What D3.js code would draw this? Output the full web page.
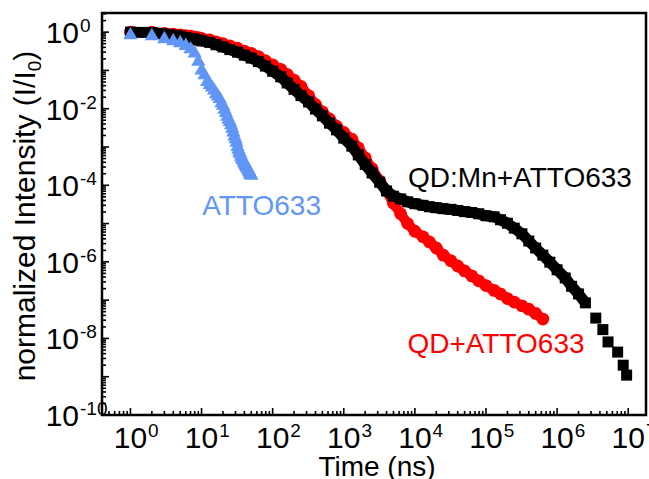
<!DOCTYPE html>
<html>
<head>
<meta charset="utf-8">
<script src="https://cdn.jsdelivr.net/npm/d3@7"></script>
<style>
	body { margin: 0; background: #fff; }
	figure { margin: 0; }
	text { font-family: "Liberation Sans", Arial, sans-serif; }
</style>
</head>
<body>
<figure id="decay"></figure>
<script>
// ---- data (time in ns, intensity normalized) ----
const qdMnTime = [1, 2, 3, 4, 5, 6, 7, 8, 9, 10,
	13, 16, 20, 25, 32, 40, 50, 63, 79, 100,
	130, 160, 200, 250, 320, 400, 500, 630, 790, 1000,
	1300, 1600, 2000, 2500, 3200, 4000, 5000, 6300, 7900, 1e4,
	1.3e4, 1.6e4, 2e4, 2.5e4, 3.2e4, 4e4, 5e4, 6.3e4, 7.9e4, 1e5,
	1.3e5, 1.6e5, 2e5, 2.5e5, 3.2e5, 4e5, 5e5, 6.3e5, 7.9e5, 1e6,
	1.3e6, 1.6e6, 2e6, 2.5e6,
	3.5e6, 4.4e6, 5.2e6, 7.1e6, 8.5e6, 9.5e6];
const qdMnValue = [1.0, 0.98, 0.89, 0.83, 0.79, 0.72, 0.68, 0.66, 0.62, 0.59,
	0.54, 0.47, 0.41, 0.35, 0.30, 0.25, 0.21, 0.17, 0.13, 0.095,
	0.068, 0.047, 0.032, 0.022, 0.015, 9.8e-3, 6.5e-3, 4.2e-3, 2.8e-3, 1.7e-3,
	1.05e-3, 6.2e-4, 3.5e-4, 2.1e-4, 1.2e-4, 7.1e-5, 5.2e-5, 4.4e-5, 3.7e-5, 3.3e-5,
	3.0e-5, 2.75e-5, 2.6e-5, 2.45e-5, 2.35e-5, 2.2e-5, 2.05e-5, 1.95e-5, 1.8e-5, 1.6e-5,
	1.5e-5, 1.26e-5, 1.02e-5, 7.6e-6, 5.4e-6, 3.5e-6, 2.3e-6, 1.5e-6, 9.8e-7, 6.2e-7,
	3.8e-7, 2.3e-7, 1.45e-7, 8.5e-8,
	3.4e-8, 1.7e-8, 8.1e-9, 4.4e-9, 2.0e-9, 1.1e-9];

const qdTime = [1, 2, 3, 4, 5, 6, 7, 8, 9, 10,
	13, 16, 20, 25, 32, 40, 50, 63, 79, 100,
	130, 160, 200, 250, 320, 400, 500, 630, 790, 1000,
	1300, 1600, 2000, 2500, 3200, 4000, 5000, 6300, 7900, 1e4,
	1.3e4, 1.6e4, 2e4, 2.5e4, 3.2e4, 4e4, 5e4, 6.3e4, 7.9e4, 1e5,
	1.3e5, 1.6e5, 2e5, 2.5e5, 3.2e5, 4e5, 5e5, 6.3e5];
const qdValue = [1.0, 1.0, 0.93, 0.89, 0.85, 0.81, 0.78, 0.74, 0.72, 0.69,
	0.63, 0.56, 0.50, 0.44, 0.38, 0.32, 0.28, 0.23, 0.18, 0.14,
	0.107, 0.079, 0.056, 0.038, 0.022, 0.0129, 0.0083, 0.0054, 0.0035, 0.0024,
	1.6e-3, 9.5e-4, 5.2e-4, 2.7e-4, 1.3e-4, 7.1e-5, 3.4e-5, 1.8e-5, 1.0e-5, 6.3e-6,
	4.5e-6, 3.3e-6, 2.3e-6, 1.5e-6, 1.07e-6, 7.8e-7, 5.8e-7, 4.3e-7, 3.2e-7, 2.4e-7,
	1.8e-7, 1.45e-7, 1.1e-7, 8.9e-8, 7.1e-8, 5.8e-8, 4.5e-8, 3.2e-8];

const attoTime = d3.range(1, 51);
const attoValue = [0.83, 0.79, 0.66, 0.58, 0.52, 0.44, 0.36, 0.28, 0.17, 0.10,
	0.075, 0.05, 0.042, 0.036, 0.030, 0.024, 0.021, 0.018, 0.014, 0.012,
	0.0095, 0.0078, 0.0062, 0.0052, 0.0045, 0.0037, 0.0030, 0.0024, 0.0019, 0.0016,
	0.0013, 0.0010, 8.5e-4, 7.2e-4, 6.5e-4, 5.6e-4, 5.0e-4, 4.6e-4, 4.2e-4, 3.8e-4,
	3.5e-4, 3.2e-4, 3.0e-4, 2.8e-4, 2.6e-4, 2.4e-4, 2.2e-4, 2.0e-4, 1.9e-4, 1.8e-4];

const xTickExponents = [0, 1, 2, 3, 4, 5, 6, 7];
const yTickExponents = [0, -2, -4, -6, -8, -10];
const seriesNames = ["QD:Mn+ATTO633", "QD+ATTO633", "ATTO633"];

let dimensions = {
	width: 649,
	height: 479,
	margin: {
		top: 13,
		right: 3,
		bottom: 64,
		left: 102,
	},
};
dimensions.boundedWidth = dimensions.width - dimensions.margin.left - dimensions.margin.right;
dimensions.boundedHeight = dimensions.height - dimensions.margin.top - dimensions.margin.bottom;

var root = d3.select("figure#decay")
	.append("svg")
	.attr("width", dimensions.width)
	.attr("height", dimensions.height);

var svg = root.append("g")
	.attr("transform", `translate(${dimensions.margin.left},${dimensions.margin.top})`);

var xScale = d3.scaleLog()
	.domain([Math.pow(10, -0.4), Math.pow(10, 7.25)])
	.range([0, dimensions.boundedWidth]);

var yScale = d3.scaleLog()
	.domain([1e-10, Math.pow(10, 0.5)])
	.range([dimensions.boundedHeight, 0]);

var zip = (ts, vs) => ts.map((t, i) => ({ t: t, v: vs[i] }));
var qdMn = zip(qdMnTime, qdMnValue);
var qd = zip(qdTime, qdValue);
var atto = zip(attoTime, attoValue);

var line = d3.line()
	.x(d => xScale(d.t))
	.y(d => yScale(d.v));

// QD + ATTO633 (red circles), drawn first, sits under the black
svg.append("path")
	.datum(qd)
	.attr("d", line)
	.attr("fill", "none")
	.attr("stroke", "#ff0000")
	.attr("stroke-width", 10)
	.attr("stroke-linejoin", "round")
	.attr("stroke-linecap", "round");

svg.selectAll("circle.qd")
	.data(qd)
	.enter()
	.append("circle")
	.attr("class", "qd")
	.attr("cx", d => xScale(d.t))
	.attr("cy", d => yScale(d.v))
	.attr("r", 6.4)
	.attr("fill", "#ff0000");

// QD:Mn + ATTO633 (black squares); the dense part is a continuous band
svg.append("path")
	.datum(qdMn.filter(d => d.t <= 2.5e6))
	.attr("d", line)
	.attr("fill", "none")
	.attr("stroke", "#000")
	.attr("stroke-width", 11)
	.attr("stroke-linejoin", "round");

svg.selectAll("rect.qdmn")
	.data(qdMn)
	.enter()
	.append("rect")
	.attr("class", "qdmn")
	.attr("x", d => xScale(d.t) - 5.5)
	.attr("y", d => yScale(d.v) - 5.5)
	.attr("width", 11)
	.attr("height", 11)
	.attr("fill", "#000");

// ATTO633 alone (blue triangles) on top
svg.selectAll("path.atto")
	.data(atto)
	.enter()
	.append("path")
	.attr("class", "atto")
	.attr("d", d3.symbol(d3.symbolTriangle, 88))
	.attr("transform", d => `translate(${xScale(d.t)},${yScale(d.v)})`)
	.attr("fill", "#6096f5");

// frame
svg.append("rect")
	.attr("width", dimensions.boundedWidth)
	.attr("height", dimensions.boundedHeight)
	.attr("fill", "none")
	.attr("stroke", "#000")
	.attr("stroke-width", 2.5);

// inward log ticks, long at each decade
function logTicks(domain) {
	var out = [];
	var lo = Math.floor(Math.log10(domain[0]));
	var hi = Math.ceil(Math.log10(domain[1]));
	for (var e = lo; e <= hi; e++) {
		for (var m = 1; m <= 9; m++) {
			var v = m * Math.pow(10, e);
			if (v >= domain[0] && v <= domain[1]) out.push({ v: v, major: m === 1 });
		}
	}
	return out;
}

svg.selectAll("line.xtick")
	.data(logTicks(xScale.domain()))
	.enter()
	.append("line")
	.attr("class", "xtick")
	.attr("x1", d => xScale(d.v))
	.attr("x2", d => xScale(d.v))
	.attr("y1", dimensions.boundedHeight)
	.attr("y2", d => dimensions.boundedHeight - (d.major ? 7 : 4))
	.attr("stroke", "#000")
	.attr("stroke-width", 1.6);

svg.selectAll("line.ytick")
	.data(logTicks(yScale.domain()))
	.enter()
	.append("line")
	.attr("class", "ytick")
	.attr("y1", d => yScale(d.v))
	.attr("y2", d => yScale(d.v))
	.attr("x1", 0)
	.attr("x2", d => d.major ? 7 : 4)
	.attr("stroke", "#000")
	.attr("stroke-width", 1.6);

var labelSize = 30;
var supSize = 19;

// x tick labels: "10" centred on the tick, exponent after it
var xLabels = svg.selectAll("g.xlabel")
	.data(xTickExponents)
	.enter()
	.append("g")
	.attr("class", "xlabel")
	.attr("transform", d => `translate(${xScale(Math.pow(10, d))},${dimensions.boundedHeight + 33})`);
xLabels.append("text")
	.attr("text-anchor", "middle")
	.attr("font-size", labelSize)
	.text("10");
xLabels.append("text")
	.attr("x", labelSize * 0.556 + 1)
	.attr("y", -11)
	.attr("font-size", supSize)
	.text(d => d);

// y tick labels: "10" ends at a fixed x, exponent after it
var yLabels = svg.selectAll("g.ylabel")
	.data(yTickExponents)
	.enter()
	.append("g")
	.attr("class", "ylabel")
	.attr("transform", d => `translate(-23,${yScale(Math.pow(10, d)) + 11})`);
yLabels.append("text")
	.attr("text-anchor", "end")
	.attr("font-size", labelSize)
	.text("10");
yLabels.append("text")
	.attr("x", 1)
	.attr("y", -11)
	.attr("font-size", supSize)
	.text(d => d);

// axis titles
root.append("text")
	.attr("x", 377)
	.attr("y", 476)
	.attr("text-anchor", "middle")
	.attr("font-size", 28)
	.text("Time (ns)");

var yTitle = root.append("text")
	.attr("transform", "rotate(-90)")
	.attr("x", -216)
	.attr("y", 35)
	.attr("text-anchor", "middle")
	.attr("font-size", 30);
yTitle.append("tspan").text("normalized Intensity (I/I");
yTitle.append("tspan").attr("font-size", 19).attr("dy", 6).text("0");
yTitle.append("tspan").attr("dy", -6).text(")");

// series labels
root.append("text")
	.attr("x", 520)
	.attr("y", 187)
	.attr("text-anchor", "middle")
	.attr("font-size", 28)
	.attr("fill", "#000")
	.text(seriesNames[0]);

root.append("text")
	.attr("x", 496)
	.attr("y", 353)
	.attr("text-anchor", "middle")
	.attr("font-size", 28)
	.attr("fill", "#ff0000")
	.text(seriesNames[1]);

root.append("text")
	.attr("x", 321)
	.attr("y", 215)
	.attr("text-anchor", "end")
	.attr("font-size", 28)
	.attr("fill", "#6096f5")
	.text(seriesNames[2]);
</script>
</body>
</html>
